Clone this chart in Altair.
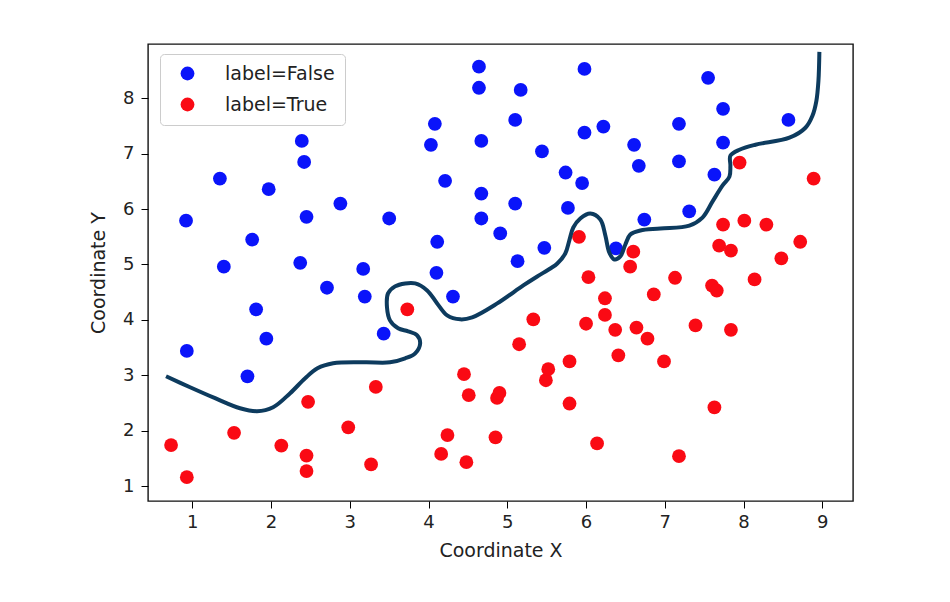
import altair as alt
import pandas as pd

# ---- data ----
blue_x = [0.92, 0.93, 1.35, 1.40, 1.76, 1.81, 1.70, 1.97, 1.94, 2.39, 2.42, 2.45, 2.37, 2.71,
          2.88, 3.17, 3.19, 3.50, 3.43, 4.08, 4.03, 4.21, 4.11, 4.10, 4.31, 4.64, 4.64, 4.67,
          4.67, 4.67, 4.91, 5.17, 5.10, 5.10, 5.44, 5.47, 5.13, 5.74, 5.77, 5.98, 5.98, 5.95,
          6.22, 6.38, 6.61, 6.67, 6.74, 7.18, 7.18, 7.31, 7.55, 7.74, 7.74, 7.63, 8.57]
blue_y = [5.79, 3.44, 6.55, 4.96, 5.45, 4.19, 2.98, 6.36, 3.66, 7.23, 6.85, 5.86, 5.03, 4.58,
          6.10, 4.92, 4.42, 5.83, 3.75, 7.54, 7.16, 6.51, 5.41, 4.85, 4.42, 8.57, 8.19, 7.23,
          6.28, 5.83, 5.56, 8.15, 7.61, 6.10, 7.04, 5.30, 5.06, 6.66, 6.02, 8.53, 7.38, 6.47,
          7.49, 5.29, 7.16, 6.78, 5.81, 7.54, 6.86, 5.96, 8.37, 7.81, 7.20, 6.62, 7.61]

red_x = [0.73, 0.93, 1.53, 2.13, 2.45, 2.45, 2.47, 2.98, 3.27, 3.33, 3.73, 4.16, 4.24, 4.48,
         4.45, 4.51, 4.85, 4.87, 4.90, 5.15, 5.33, 5.49, 5.52, 5.79, 5.79, 5.91, 6.00, 6.03,
         6.14, 6.24, 6.24, 6.37, 6.41, 6.56, 6.60, 6.64, 6.78, 6.86, 6.99, 7.13, 7.18, 7.39,
         7.60, 7.66, 7.63, 7.69, 7.74, 7.84, 7.84, 7.95, 8.01, 8.14, 8.29, 8.48, 8.72, 8.89]
red_y = [1.74, 1.16, 1.96, 1.73, 1.55, 1.27, 2.52, 2.06, 1.39, 2.79, 4.19, 1.58, 1.92, 1.43,
         3.02, 2.64, 1.88, 2.59, 2.68, 3.56, 4.01, 2.91, 3.11, 3.25, 2.49, 5.50, 3.93, 4.77,
         1.77, 4.39, 4.09, 3.82, 3.36, 4.96, 5.23, 3.86, 3.66, 4.46, 3.25, 4.76, 1.54, 3.90,
         4.62, 4.53, 2.42, 5.34, 5.72, 5.25, 3.82, 6.84, 5.79, 4.73, 5.72, 5.11, 5.41, 6.55]

boundary_x = [0.666, 0.971, 1.289, 1.606, 1.822, 2.026, 2.242, 2.433, 2.589, 2.788, 3.195,
              3.510, 3.703, 3.830, 3.893, 3.855, 3.740, 3.613, 3.510, 3.472, 3.485, 3.574,
              3.703, 3.830, 3.982, 4.109, 4.236, 4.402, 4.554, 4.872, 5.203, 5.380, 5.546,
              5.635, 5.736, 5.787, 5.838, 5.927, 6.054, 6.181, 6.245, 6.295, 6.359, 6.435,
              6.499, 6.562, 6.690, 6.944, 7.312, 7.478, 7.605, 7.732, 7.821, 7.833, 7.833,
              7.948, 8.151, 8.583, 8.786, 8.875, 8.925, 8.951, 8.963]
boundary_y = [2.982, 2.784, 2.586, 2.405, 2.351, 2.423, 2.676, 2.946, 3.126, 3.216, 3.234,
              3.234, 3.306, 3.396, 3.577, 3.721, 3.793, 3.847, 3.991, 4.225, 4.477, 4.604,
              4.658, 4.658, 4.532, 4.297, 4.081, 4.009, 4.045, 4.297, 4.622, 4.784, 4.928,
              5.018, 5.198, 5.432, 5.667, 5.829, 5.919, 5.811, 5.523, 5.216, 5.090, 5.144,
              5.360, 5.541, 5.613, 5.649, 5.703, 5.847, 6.135, 6.423, 6.586, 6.784, 6.964,
              7.072, 7.162, 7.288, 7.468, 7.685, 7.955, 8.315, 8.838]

labels = ["label=False", "label=True"]
colors = ["#0a14fa", "#fa0a14"]
x_ticks = [1, 2, 3, 4, 5, 6, 7, 8, 9]
y_ticks = [1, 2, 3, 4, 5, 6, 7, 8]

pts = pd.DataFrame({
    "x": blue_x + red_x,
    "y": blue_y + red_y,
    "label": [labels[0]] * len(blue_x) + [labels[1]] * len(red_x),
})
line_df = pd.DataFrame({"x": boundary_x, "y": boundary_y, "i": list(range(len(boundary_x)))})

FONT = "DejaVu Sans"
xscale = alt.Scale(domain=[0.437, 9.39], nice=False, zero=False)
yscale = alt.Scale(domain=[0.73, 8.98], nice=False, zero=False)

xaxis = alt.Axis(title="Coordinate X", values=x_ticks, format="d", grid=False, domain=False,
                 tickSize=7, tickColor="#000", labelPadding=5, labelFontSize=18,
                 labelColor="#222", titleFontSize=19, titleFontWeight="normal",
                 titleColor="#222", titlePadding=10, labelFont=FONT, titleFont=FONT)
yaxis = alt.Axis(title="Coordinate Y", values=y_ticks, format="d", grid=False, domain=False,
                 tickSize=7, tickColor="#000", labelPadding=7, labelFontSize=18,
                 labelColor="#222", titleFontSize=19, titleFontWeight="normal",
                 titleColor="#222", titlePadding=14, labelFont=FONT, titleFont=FONT)

points = alt.Chart(pts).mark_circle(size=190, opacity=1).encode(
    x=alt.X("x:Q", scale=xscale, axis=xaxis),
    y=alt.Y("y:Q", scale=yscale, axis=yaxis),
    color=alt.Color("label:N", scale=alt.Scale(domain=labels, range=colors),
                    legend=alt.Legend(orient="none", legendX=12, legendY=10, title=None,
                                      fillColor="white", strokeColor="#cccccc",
                                      cornerRadius=4, padding=10, symbolSize=190,
                                      symbolType="circle", labelFontSize=19, labelFont=FONT,
                                      labelColor="#222", symbolOffset=8, labelOffset=28,
                                      rowPadding=11, symbolStrokeWidth=0, symbolOpacity=1)),
)

boundary = alt.Chart(line_df).mark_line(color="#0d3b5e", strokeWidth=4,
                                        interpolate="catmull-rom").encode(
    x=alt.X("x:Q", scale=xscale),
    y=alt.Y("y:Q", scale=yscale),
    order=alt.Order("i:Q"),
)

chart = alt.layer(points, boundary).properties(
    width=705, height=457,
    autosize=alt.AutoSizeParams(type="none"),
    padding={"left": 148, "top": 44, "right": 97, "bottom": 101},
    background="white",
).configure_view(stroke="#111", strokeWidth=1.4)

chart.save("out.html", embed_options={"renderer": "svg", "actions": False})
